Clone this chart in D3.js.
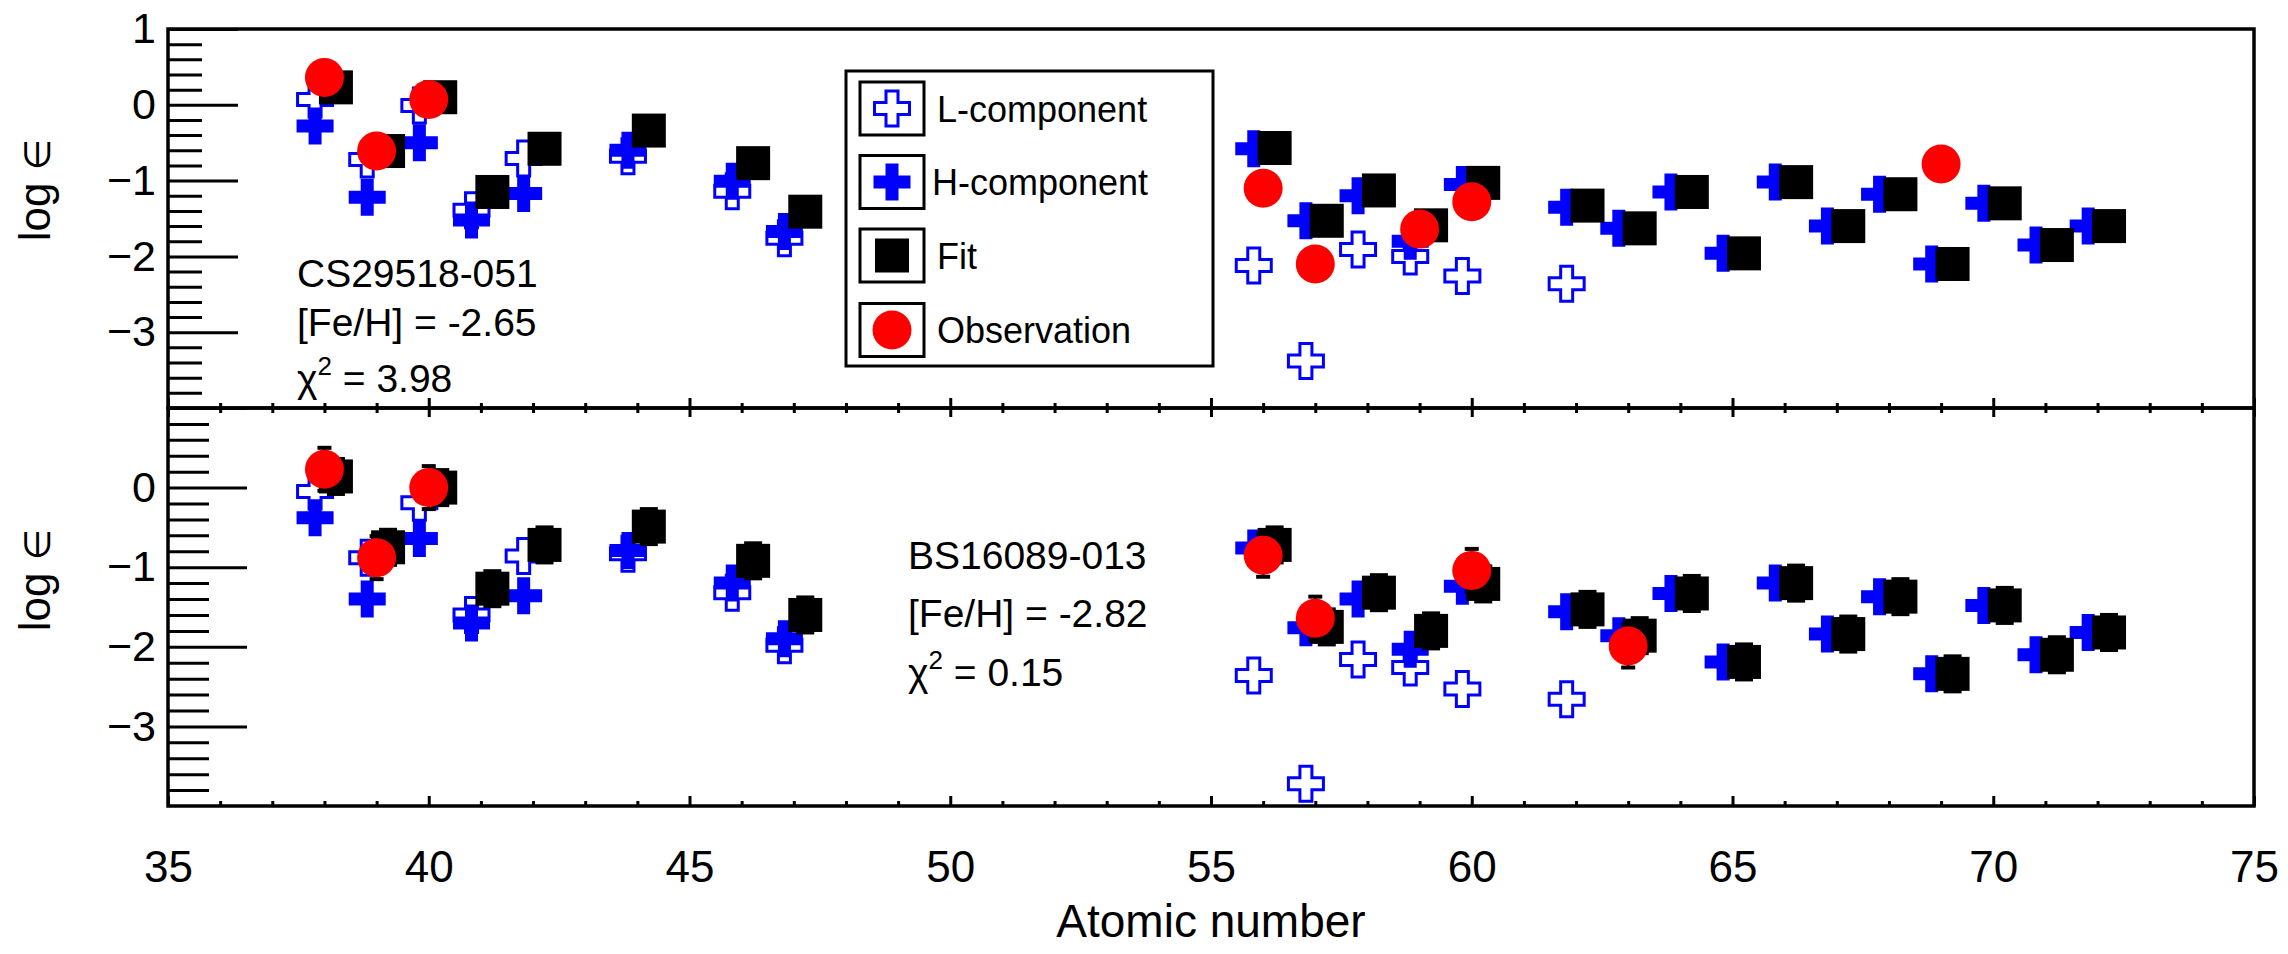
<!DOCTYPE html>
<html>
<head>
<meta charset="utf-8">
<script src="https://cdn.jsdelivr.net/npm/d3@7"></script>
<style>
body { margin: 0; background: #fff; }
svg text { font-family: "Liberation Sans", Arial, "DejaVu Sans", sans-serif; fill: #000; }
.tick line { stroke: #000; stroke-width: 3; }
</style>
</head>
<body>
<svg id="plot" width="2288" height="954"></svg>
<script>
//atomic numbers of the elements in each series
let zL = [38, 39, 40, 41, 42, 44, 46, 47, 56, 57, 58, 59, 60, 62]
let zH = [38, 39, 40, 41, 42, 44, 46, 47, 56, 57, 58, 59, 60, 62, 63, 64, 65, 66, 67, 68, 69, 70, 71, 72]
let zObsTop = [38, 39, 40, 56, 57, 59, 60, 69]
let zObsBot = [38, 39, 40, 56, 57, 60, 63]

//top star: CS29518-051
let lTop = [0.07, -0.72, -0.01, -1.39, -0.71, -0.68, -1.14, -1.76, -2.12, -3.38, -1.91, -2.00, -2.26, -2.36]
let hTop = [-0.28, -1.22, -0.50, -1.52, -1.17, -0.60, -1.01, -1.67, -0.58, -1.53, -1.20, -1.80, -1.05, -1.35,
            -1.63, -1.15, -1.96, -1.02, -1.60, -1.18, -2.10, -1.30, -1.85, -1.60]
let fitTop = [0.23, -0.61, 0.10, -1.15, -0.58, -0.34, -0.77, -1.41, -0.57, -1.53, -1.13, -1.59, -1.03, -1.33,
              -1.63, -1.15, -1.96, -1.02, -1.60, -1.18, -2.10, -1.30, -1.85, -1.60]
let obsTop = [0.36, -0.61, 0.07, -1.10, -2.10, -1.64, -1.28, -0.78]

//bottom star: BS16089-013
let lBot = [-0.05, -0.88, -0.19, -1.60, -0.86, -0.83, -1.32, -1.98, -2.36, -3.72, -2.16, -2.26, -2.53, -2.66]
let hBot = [-0.38, -1.40, -0.64, -1.70, -1.36, -0.79, -1.20, -1.90, -0.76, -1.76, -1.40, -2.03, -1.24, -1.56,
            -1.86, -1.33, -2.19, -1.20, -1.84, -1.37, -2.34, -1.48, -2.10, -1.82]
let fitBot = [0.14, -0.75, 0.00, -1.27, -0.72, -0.49, -0.92, -1.60, -0.72, -1.75, -1.32, -1.80, -1.21, -1.53,
              -1.86, -1.33, -2.19, -1.20, -1.84, -1.37, -2.34, -1.48, -2.10, -1.82]
let fitBotErr = [0.22, 0.22, 0.22, 0.22, 0.22, 0.22, 0.22, 0.22, 0.22, 0.22, 0.22, 0.22, 0.22, 0.22,
                 0.22, 0.22, 0.22, 0.22, 0.22, 0.22, 0.22, 0.22, 0.22, 0.22]
let obsBot = [0.23, -0.88, 0.00, -0.85, -1.64, -1.04, -1.99]
let obsBotErr = [0.27, 0.27, 0.27, 0.27, 0.27, 0.27, 0.27]

//axis ticks and labels
let xTicks = [35, 40, 45, 50, 55, 60, 65, 70, 75]
let yMajor = [-3, -2, -1, 0, 1]
let yLabelsTop = [-3, -2, -1, 0, 1]
let yLabelsBot = [-3, -2, -1, 0]
let legendLabels = ["L-component", "H-component", "Fit", "Observation"]
let textTop = ["CS29518-051", "[Fe/H] = -2.65", "3.98"]
let textBot = ["BS16089-013", "[Fe/H] = -2.82", "0.15"]

let svg = d3.select("#plot")
svg.append("rect").attr("width", 2288).attr("height", 954).attr("fill", "white")

//shared x scale, one y scale per panel
let x_left = 168, x_right = 2254
let x_scale = d3.scaleLinear([35, 75], [x_left, x_right])
let y_top = d3.scaleLinear([-4, 1], [408, 29])
let y_bot = d3.scaleLinear([-4, 1], [806, 408])

//small x offsets so the markers don't sit on top of each other
let dxComp = -0.18, dxFit = 0.22

let yMinor = d3.range(-40, 10, 2).filter(d => d % 10 != 0).map(d => d / 10)
let xMinor = d3.range(35, 76).filter(d => d % 5 != 0)

function crossPath(cx, cy, s, a) {
    let h = s / 2, w = a / 2
    return `M${cx - w},${cy - h}H${cx + w}V${cy - w}H${cx + h}V${cy + w}H${cx + w}V${cy + h}H${cx - w}V${cy + w}H${cx - h}V${cy - w}H${cx - w}Z`
}

function drawOpenCross(g, cx, cy) {
    g.append("path").attr("d", crossPath(cx, cy, 35, 12))
        .attr("fill", "none").attr("stroke", "#0000ff").attr("stroke-width", 3)
}
function drawFilledCross(g, cx, cy) {
    g.append("path").attr("d", crossPath(cx, cy, 37, 13)).attr("fill", "#0000ff")
}
function drawSquare(g, cx, cy) {
    g.append("rect").attr("x", cx - 17).attr("y", cy - 17).attr("width", 34).attr("height", 34).attr("fill", "black")
}
function drawCircle(g, cx, cy) {
    g.append("circle").attr("cx", cx).attr("cy", cy).attr("r", 19.5).attr("fill", "#ff0000")
}
function drawErr(g, cx, y_scale, v, e, capW) {
    g.append("line").attr("x1", cx).attr("x2", cx).attr("y1", y_scale(v - e)).attr("y2", y_scale(v + e))
        .attr("stroke", "black").attr("stroke-width", 3)
    for (let s of [-1, 1]) {
        g.append("line").attr("x1", cx - capW / 2).attr("x2", cx + capW / 2)
            .attr("y1", y_scale(v + s * e)).attr("y2", y_scale(v + s * e))
            .attr("stroke", "black").attr("stroke-width", 4)
    }
}

function drawPanel(p) {
    let g = svg.append("g")
    let [y1, y0] = p.y.range()

    //y ticks point into the frame, labels sit outside
    let yt = g.append("g").attr("transform", `translate(${x_left},0)`)
        .call(d3.axisRight(p.y).tickValues(yMinor).tickSize(p.minorLen).tickFormat(""))
    yt.select(".domain").remove()
    let ym = g.append("g").attr("transform", `translate(${x_left},0)`)
        .call(d3.axisRight(p.y).tickValues(yMajor).tickSize(p.majorLen).tickFormat(""))
    ym.select(".domain").remove()
    let yl = g.append("g").attr("transform", `translate(${x_left},0)`)
        .call(d3.axisLeft(p.y).tickValues(p.yLabels).tickSize(0).tickPadding(12).tickFormat(d3.format("d")))
    yl.select(".domain").remove()
    yl.selectAll("text").attr("font-size", 43).attr("font-family", null)

    //x ticks on the bottom edge pointing up
    let xb = g.append("g").attr("transform", `translate(0,${y1})`)
        .call(d3.axisTop(x_scale).tickValues(xTicks).tickSize(10).tickFormat(""))
    xb.select(".domain").remove()
    let xbm = g.append("g").attr("transform", `translate(0,${y1})`)
        .call(d3.axisTop(x_scale).tickValues(xMinor).tickSize(5).tickFormat(""))
    xbm.select(".domain").remove()
    if (p.topTicks) {
        let xt = g.append("g").attr("transform", `translate(0,${y0})`)
            .call(d3.axisBottom(x_scale).tickValues(xTicks).tickSize(9).tickFormat(""))
        xt.select(".domain").remove()
        let xtm = g.append("g").attr("transform", `translate(0,${y0})`)
            .call(d3.axisBottom(x_scale).tickValues(xMinor).tickSize(5).tickFormat(""))
        xtm.select(".domain").remove()
    }

    //frame
    g.append("rect").attr("x", x_left).attr("y", y0).attr("width", x_right - x_left).attr("height", y1 - y0)
        .attr("fill", "none").attr("stroke", "black").attr("stroke-width", 3.5)

    //y title
    let yt2 = g.append("text").attr("transform", `translate(50,${p.titleY}) rotate(-90)`)
        .attr("text-anchor", "middle").attr("font-size", 44)
    yt2.append("tspan").text("log ")
    yt2.append("tspan").attr("font-size", 36).text("\u2208")

    //markers: L, H, fit, observation
    let m = g.append("g")
    zL.forEach((z, i) => drawOpenCross(m, x_scale(z + dxComp), p.y(p.L[i])))
    zH.forEach((z, i) => drawFilledCross(m, x_scale(z + dxComp), p.y(p.H[i])))
    zH.forEach((z, i) => {
        if (p.fitErr) drawErr(m, x_scale(z + dxFit), p.y, p.fit[i], p.fitErr[i], 18)
        drawSquare(m, x_scale(z + dxFit), p.y(p.fit[i]))
    })
    p.zObs.forEach((z, i) => {
        if (p.obsErr) drawErr(m, x_scale(z), p.y, p.obs[i], p.obsErr[i], 14)
        drawCircle(m, x_scale(z), p.y(p.obs[i]))
    })

    //star name, metallicity, chi2
    let t = g.append("g")
    t.append("text").attr("x", p.textX).attr("y", p.textY[0]).attr("font-size", 39).text(p.text[0])
    t.append("text").attr("x", p.textX).attr("y", p.textY[1]).attr("font-size", 39).text(p.text[1])
    let chi = t.append("text").attr("x", p.textX).attr("y", p.textY[2]).attr("font-size", 39)
    chi.append("tspan").text("\u03c7")
    chi.append("tspan").attr("font-size", 26).attr("dy", -17).text("2")
    chi.append("tspan").attr("dy", 17).text(" = " + p.text[2])
}

drawPanel({y: y_top, majorLen: 70, minorLen: 34, yLabels: yLabelsTop, topTicks: false, titleY: 190,
    L: lTop, H: hTop, fit: fitTop, obs: obsTop, zObs: zObsTop,
    text: textTop, textX: 297, textY: [287, 336, 392]})
drawPanel({y: y_bot, majorLen: 79, minorLen: 41, yLabels: yLabelsBot, topTicks: true, titleY: 580,
    L: lBot, H: hBot, fit: fitBot, fitErr: fitBotErr, obs: obsBot, obsErr: obsBotErr, zObs: zObsBot,
    text: textBot, textX: 908, textY: [569, 627, 686]})

//x tick labels and title under the bottom panel
let xl = svg.append("g").attr("transform", "translate(0,806)")
    .call(d3.axisBottom(x_scale).tickValues(xTicks).tickSize(0).tickPadding(45))
xl.select(".domain").remove()
xl.selectAll("text").attr("font-size", 44).attr("font-family", null)

svg.append("text").attr("x", (x_left + x_right) / 2).attr("y", 937)
    .attr("text-anchor", "middle").attr("font-size", 46).text("Atomic number")

//legend
let leg = svg.append("g")
leg.append("rect").attr("x", 846).attr("y", 71).attr("width", 367).attr("height", 295)
    .attr("fill", "white").attr("stroke", "black").attr("stroke-width", 3)
let legY = [108.5, 182, 255.5, 330]
let legDraw = [drawOpenCross, drawFilledCross, drawSquare, drawCircle]
legendLabels.forEach((lab, i) => {
    leg.append("rect").attr("x", 860).attr("y", legY[i] - 26.5).attr("width", 64).attr("height", 53)
        .attr("fill", "white").attr("stroke", "black").attr("stroke-width", 3)
    legDraw[i](leg, 892, legY[i])
    leg.append("text").attr("x", i == 1 ? 932 : 937).attr("y", legY[i] + 13).attr("font-size", 36).text(lab)
})
</script>
</body>
</html>
